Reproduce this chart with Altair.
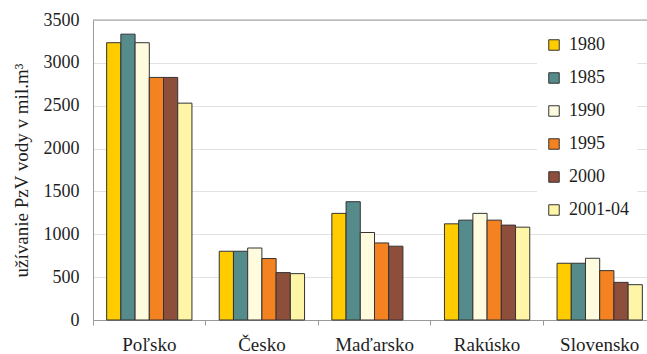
import altair as alt
import pandas as pd

countries = ["Poľsko", "Česko", "Maďarsko", "Rakúsko", "Slovensko"]
years = ["1980", "1985", "1990", "1995", "2000", "2001-04"]
polsko = [3235, 3335, 3235, 2830, 2830, 2530]
cesko = [802, 802, 840, 717, 553, 541]
madarsko = [1244, 1380, 1021, 899, 861, None]
rakusko = [1122, 1165, 1244, 1165, 1107, 1083]
slovensko = [662, 662, 720, 576, 439, 412]
colors = ["#FFCC00", "#568B8B", "#FFFBDF", "#F58220", "#8E4E3C", "#FFF5A6"]
y_ticks = [0, 500, 1000, 1500, 2000, 2500, 3000, 3500]

series = [polsko, cesko, madarsko, rakusko, slovensko]
rows = []
for c, vals in zip(countries, series):
    for yr, v in zip(years, vals):
        if v is not None:
            rows.append({"country": c, "year": yr, "value": v})
df = pd.DataFrame(rows)

FONT = "Times New Roman, Liberation Serif, serif"
TXT = "#1e1e1e"

bars = alt.Chart(df).mark_bar(stroke="#333333", strokeWidth=1).encode(
    x=alt.X(
        "country:N",
        sort=countries,
        scale=alt.Scale(domain=countries, range=[0, 563], paddingInner=0, paddingOuter=0),
        axis=alt.Axis(
            title=None, labelAngle=0, labelFontSize=19, labelColor=TXT,
            labelFont=FONT, domainColor="#999999", tickColor="#999999",
            tickSize=5, bandPosition=0, labelPadding=10, grid=False,
        ),
    ),
    xOffset=alt.XOffset(
        "year:N", sort=years,
        scale=alt.Scale(domain=years, paddingInner=0, paddingOuter=0.96),
    ),
    y=alt.Y(
        "value:Q",
        scale=alt.Scale(domain=[0, 3500], nice=False),
        axis=alt.Axis(
            title="užívanie PzV vody v mil.m³", values=y_ticks, format="d",
            labelFontSize=18, labelColor=TXT, labelFont=FONT,
            titleFont=FONT, titleFontSize=19, titleFontWeight="normal",
            titleColor=TXT, titlePadding=12,
            domainColor="#999999", ticks=False, labelPadding=14,
            grid=True, gridColor="#e2e2e2",
        ),
    ),
    color=alt.Color(
        "year:N", sort=years,
        scale=alt.Scale(domain=years, range=colors),
        legend=alt.Legend(
            title=None, orient="none", legendX=444, legendY=8,
            fillColor="white", padding=8, symbolType="square",
            symbolSize=110, symbolStrokeColor="#333333", symbolStrokeWidth=1,
            labelFont=FONT, labelFontSize=18, labelColor=TXT,
            rowPadding=15, labelOffset=6,
        ),
    ),
)

top = alt.Chart(pd.DataFrame({"v": [3500]})).mark_rule(color="#999999", strokeWidth=1).encode(
    y=alt.Y("v:Q", scale=alt.Scale(domain=[0, 3500], nice=False))
)

chart = alt.layer(bars, top).properties(
    width=554, height=300,
    autosize=alt.AutoSizeParams(type="none"),
    padding={"left": 93, "top": 20, "right": 0, "bottom": 34},
).configure(font=FONT).configure_view(stroke=None)

chart.save("out.html", embed_options={"renderer": "svg", "actions": False})
